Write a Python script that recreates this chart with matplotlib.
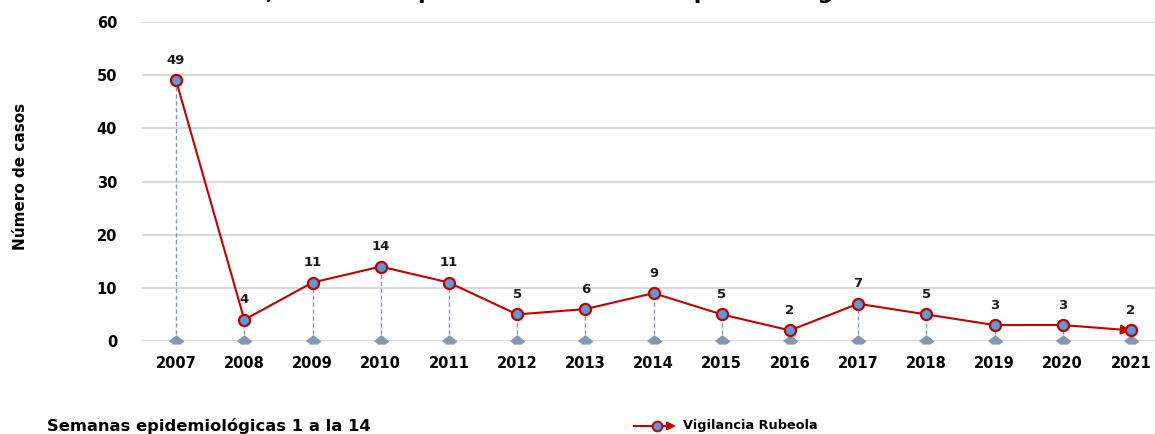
import matplotlib
matplotlib.use('Agg')
import matplotlib.pyplot as plt
from matplotlib.lines import Line2D

plt.rcParams['font.family'] = 'DejaVu Sans'

years = ['2007', '2008', '2009', '2010', '2011', '2012', '2013', '2014',
         '2015', '2016', '2017', '2018', '2019', '2020', '2021']
cases = [49, 4, 11, 14, 11, 5, 6, 9, 5, 2, 7, 5, 3, 3, 2]
yticks = [0, 10, 20, 30, 40, 50, 60]

# title is cut off at the top in the reference, only descenders show
title_lead = 'Casos de Rubeola'
title = 'Casos de Rubeola, total en el periodo 2007 - 2021 epidemiológico'
series_name = 'Vigilancia Rubeola'
footnote = 'Semanas epidemiológicas 1 a la 14'

red = '#C00000'
blue = '#5B9BD5'
drop = '#8497B0'

W, H = 1155, 434
fig = plt.figure(figsize=(W / 100, H / 100), dpi=100)
ax = fig.add_axes([142 / W, 93 / H, 1023 / W, 319 / H])

x = list(range(len(years)))

# drop lines with base markers
for xi, yi in zip(x, cases):
    ax.plot([xi, xi], [0, yi], color=drop, lw=1, ls=(0, (3, 2)), zorder=2)
base = [(-1, 0), (0, 0.8), (1, 0), (0.55, -0.35), (-0.55, -0.35)]
ax.plot(x, [0] * len(x), ls='none', marker=base, ms=10, color=drop,
        mec=drop, zorder=3, clip_on=False)

# main line, last segment ends in an arrow
ax.plot(x[:-1], cases[:-1], color=red, lw=1.5, zorder=4)
ax.annotate('', xy=(x[-1], cases[-1]), xytext=(x[-2], cases[-2]),
            arrowprops=dict(arrowstyle='-|>', color=red, lw=1.5,
                            mutation_scale=14, shrinkA=0, shrinkB=0),
            zorder=4)
ax.plot(x, cases, ls='none', marker='o', ms=8, mfc=blue, mec=red, mew=1.6,
        zorder=5)

for xi, yi in zip(x, cases):
    ax.annotate(str(yi), (xi, yi), xytext=(0, 20), textcoords='offset pixels',
                ha='center', va='center', fontsize=9.5, fontweight='bold',
                color='#1a1a1a')

ax.set_xlim(-0.5, len(years) - 0.5)
ax.set_ylim(0, 60)
ax.set_yticks(yticks)
ax.set_xticks(x)
ax.set_xticklabels(years)
ax.tick_params(length=0, labelsize=10.5, pad=11)
ax.tick_params(axis='y', pad=18)
for lab in ax.get_xticklabels() + ax.get_yticklabels():
    lab.set_fontweight('bold')
ax.grid(axis='y', color='#D9D9D9', lw=1.5)
ax.set_axisbelow(True)
for s in ax.spines.values():
    s.set_visible(False)

fig.text(21 / W, 1 - 176 / H, 'Número de casos', rotation=90,
         ha='center', va='center', fontsize=11, fontweight='bold',
         family=['Liberation Sans Narrow', 'DejaVu Sans'])

# place the title so its comma lands where the reference shows it
r = fig.canvas.get_renderer()
tmp = fig.text(0, 0, title_lead, fontsize=16, fontweight='bold')
lead_w = tmp.get_window_extent(r).width
tmp.remove()
fig.text((266 - lead_w) / W, 1.003, title, ha='left', va='baseline',
         fontsize=16, fontweight='bold')

fig.text(47 / W, 1 - 426 / H, footnote, ha='left', va='center',
         fontsize=11.8, fontweight='bold')

# legend glyph
ly = 1 - 426 / H
fig.add_artist(Line2D([634 / W, 668 / W], [ly, ly], color=red, lw=1.5))
ax.annotate('', xy=(676 / W, ly), xytext=(650 / W, ly),
            xycoords='figure fraction', textcoords='figure fraction',
            arrowprops=dict(arrowstyle='-|>', color=red, lw=1.5,
                            mutation_scale=12, shrinkA=0, shrinkB=0))
fig.add_artist(Line2D([657 / W], [ly], ls='none', marker='o', ms=7,
                      mfc=blue, mec=red, mew=1.4))
fig.text(683 / W, ly, series_name, ha='left', va='center', fontsize=9.3,
         fontweight='bold')

fig.savefig('out.png', dpi=100)
